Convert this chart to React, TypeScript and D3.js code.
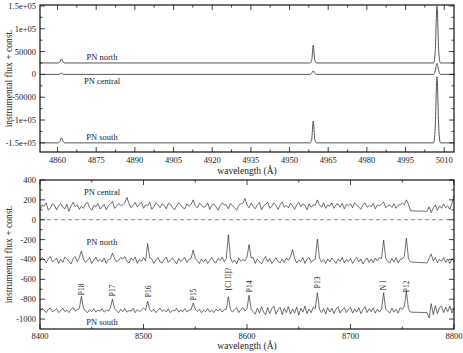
import React, { useEffect, useRef } from 'react';
import * as d3 from 'd3';

type Pt = [number, number];

const W = 463;
const H = 353;

// upper panel: H-beta and [O III] region, [wavelength, flux]
const topNorth: Pt[] = [
  [4853, 25000], [4860.2, 25000], [4860.9, 27000], [4861.5, 34000], [4862.1, 27000], [4862.8, 25000],
  [4957.9, 25000], [4958.6, 31000], [4959.2, 64000], [4959.8, 31000], [4960.5, 25000],
  [5005.9, 25000], [5006.5, 48000], [5007.2, 150000], [5007.9, 48000], [5008.5, 25000], [5014, 25000],
];
const topCentral: Pt[] = [
  [4853, 0], [4860.2, 0], [4860.9, 800], [4861.5, 2800], [4862.1, 800], [4862.8, 0],
  [4957.9, 0], [4958.6, 2500], [4959.2, 8000], [4959.8, 2500], [4960.5, 0],
  [5005.9, 0], [5006.5, 7500], [5007.2, 24000], [5007.9, 7500], [5008.5, 0], [5014, 0],
];
const topSouth: Pt[] = [
  [4853, -150000], [4860.2, -150000], [4860.9, -147000], [4861.5, -139000], [4862.1, -147000], [4862.8, -150000],
  [4957.9, -150000], [4958.6, -142000], [4959.2, -102000], [4959.8, -142000], [4960.5, -150000],
  [5005.9, -150000], [5006.5, -118000], [5007.2, -5000], [5007.9, -118000], [5008.5, -150000], [5014, -150000],
];
const topXTicks = [4860, 4875, 4890, 4905, 4920, 4935, 4950, 4965, 4980, 4995, 5010];
const topYTicks = [150000, 100000, 50000, 0, -50000, -100000, -150000];
const topYTickLabels = ['1.5e+05', '1e+05', '50000', '0', '-50000', '-1e+05', '-1.5e+05'];

// lower panel: 2 A sampling, detector gap between 8758 and 8774
const redWave = d3.range(8400, 8760, 2).concat(d3.range(8774, 8801, 2));
const redCentral = [
  105, 150, 135, 170, 95, 120, 160, 145, 100, 140,
  165, 125, 110, 155, 85, 140, 175, 130, 150, 105,
  135, 115, 160, 175, 120, 95, 145, 130, 165, 110,
  125, 155, 100, 140, 160, 185, 115, 135, 165, 145,
  150, 170, 225, 160, 120, 145, 175, 130, 155, 180,
  115, 150, 140, 175, 105, 130, 170, 150, 120, 160,
  145, 110, 165, 155, 125, 100, 140, 170, 150, 120,
  110, 160, 135, 155, 200, 140, 120, 165, 150, 125,
  135, 170, 105, 145, 160, 130, 95, 140, 170, 150,
  150, 110, 165, 140, 120, 95, 145, 160, 165, 215,
  150, 120, 165, 135, 110, 150, 175, 100, 140, 155,
  175, 115, 135, 170, 145, 105, 150, 180, 125, 145,
  120, 165, 140, 105, 150, 175, 130, 160, 145, 100,
  160, 125, 150, 145, 200, 150, 125, 170, 115, 150,
  135, 170, 115, 150, 160, 125, 165, 110, 155, 140,
  160, 120, 170, 145, 130, 105, 150, 170, 125, 145,
  130, 165, 110, 150, 140, 160, 180, 120, 140, 150,
  125, 160, 115, 145, 150, 170, 150, 200, 155, 90,
  85, 130, 70, 120, 150, 95, 140, 115, 160, 120, 140, 105, 165, 240,
];
const redNorth = [
  -415, -380, -400, -435, -390, -370, -425, -410, -385, -440,
  -400, -430, -375, -395, -420, -445, -390, -370, -420, -380,
  -315, -395, -430, -410, -380, -440, -405, -375, -420, -400,
  -425, -385, -440, -400, -395, -335, -390, -425, -410, -380,
  -395, -370, -420, -435, -385, -410, -375, -440, -400, -420,
  -380, -415, -240, -385, -395, -440, -405, -380, -425, -435,
  -400, -375, -430, -405, -385, -415, -445, -390, -420, -400,
  -380, -430, -395, -390, -305, -390, -415, -440, -395, -425,
  -395, -440, -410, -380, -420, -435, -390, -410, -375, -425,
  -390, -150, -385, -430, -405, -445, -385, -420, -400, -415,
  -375, -250, -385, -380, -440, -395, -420, -445, -400, -370,
  -425, -390, -440, -410, -380, -420, -435, -395, -430, -385,
  -410, -375, -300, -390, -435, -405, -420, -380, -440, -395,
  -380, -430, -405, -395, -195, -385, -425, -400, -440, -395,
  -425, -385, -410, -440, -395, -420, -380, -435, -400, -420,
  -390, -440, -405, -380, -425, -395, -445, -410, -385, -430,
  -395, -430, -385, -415, -380, -390, -205, -385, -420, -435,
  -390, -425, -380, -435, -400, -395, -370, -185, -390, -425,
  -435, -390, -345, -415, -380, -435, -400, -420, -380, -430, -395, -440, -390, -420,
];
const redSouth = [
  -920, -895, -910, -935, -900, -890, -925, -915, -895, -935,
  -915, -890, -925, -910, -935, -900, -885, -920, -905, -895,
  -770, -890, -920, -935, -905, -925, -895, -930, -910, -920,
  -895, -930, -910, -920, -890, -800, -895, -920, -935, -900,
  -925, -895, -930, -915, -920, -890, -935, -905, -925, -910,
  -890, -910, -820, -905, -925, -900, -935, -910, -890, -925,
  -905, -930, -895, -935, -910, -920, -890, -930, -910, -925,
  -895, -930, -910, -905, -838, -900, -925, -900, -935, -910,
  -925, -895, -930, -910, -935, -900, -920, -895, -930, -905,
  -900, -775, -900, -930, -905, -885, -935, -905, -885, -920,
  -895, -760, -900, -925, -950, -890, -940, -875, -930, -955,
  -885, -945, -895, -870, -950, -905, -880, -955, -890, -935,
  -875, -950, -900, -940, -880, -960, -890, -930, -870, -945,
  -900, -935, -880, -895, -735, -900, -935, -895, -950, -885,
  -930, -890, -945, -900, -875, -940, -905, -885, -935, -900,
  -880, -940, -900, -930, -885, -945, -905, -875, -935, -895,
  -925, -885, -940, -900, -930, -900, -735, -900, -920, -940,
  -890, -930, -900, -940, -885, -905, -870, -720, -895, -930,
  -935, -990, -845, -955, -865, -945, -885, -870, -935, -880, -925, -870, -940, -895,
];
const lineIds = ['P18', 'P17', 'P16', 'P15', '[Cl II]?', 'P14', 'P13', 'N I', 'P12'];
const lineWave = [8440, 8470, 8505, 8548, 8582, 8602, 8668, 8732, 8754];
const lineLabelY = [-760, -770, -780, -810, -710, -730, -690, -710, -730];
const bottomXTicks = [8400, 8500, 8600, 8700, 8800];
const bottomYTicks = [400, 200, 0, -200, -400, -600, -800, -1000];

const FONT = 'Liberation Serif, Times New Roman, DejaVu Serif, serif';

function drawFrame(g, x, y, xMajor, xMinor, yMajor, yMinor) {
  const [x0, x1] = x.range();
  const [yb, yt] = y.range();
  const tk = (ax, ay, bx, by) =>
    g.append('line').attr('x1', ax).attr('y1', ay).attr('x2', bx).attr('y2', by)
      .attr('stroke', '#111').attr('stroke-width', 0.8);

  xMajor.forEach(v => { const p = x(v); tk(p, yb, p, yb - 5); tk(p, yt, p, yt + 5); });
  xMinor.forEach(v => { const p = x(v); tk(p, yb, p, yb - 2.5); tk(p, yt, p, yt + 2.5); });
  yMajor.forEach(v => { const p = y(v); tk(x0, p, x0 + 5, p); tk(x1, p, x1 - 5, p); });
  yMinor.forEach(v => { const p = y(v); tk(x0, p, x0 + 2.5, p); tk(x1, p, x1 - 2.5, p); });

  g.append('rect').attr('x', x0).attr('y', yt).attr('width', x1 - x0).attr('height', yb - yt)
    .attr('fill', 'none').attr('stroke', '#111').attr('stroke-width', 1.2);
}

function label(g, x, y, txt, size, anchor = 'middle', transform = '') {
  const t = g.append('text').attr('text-anchor', anchor)
    .attr('font-family', FONT).attr('font-size', size).attr('fill', '#222').text(txt);
  if (transform) t.attr('transform', transform);
  else t.attr('x', x).attr('y', y);
  return t;
}

const App = () => {
  const ref = useRef(null);

  useEffect(() => {
    const svg = d3.select(ref.current);
    svg.selectAll('*').remove();
    svg.append('rect').attr('width', W).attr('height', H).attr('fill', '#fff');

    // ---------- upper panel ----------
    const xt = d3.scaleLinear().domain([4853.2, 5013.8]).range([40, 454]);
    const yt = d3.scaleLinear().domain([-170000, 152000]).range([152, 5]);
    const gt = svg.append('g');

    const lineTop = d3.line<Pt>().x(d => xt(d[0])).y(d => yt(d[1])).curve(d3.curveMonotoneX);
    [topNorth, topCentral, topSouth].forEach(s => {
      gt.append('path').attr('d', lineTop(s)).attr('fill', 'none')
        .attr('stroke', '#444').attr('stroke-width', 0.9);
    });

    const topXMinor = d3.range(4852.5, 5014, 7.5).filter(v => !topXTicks.includes(v) && v > 4853.2);
    const topYMinor = d3.range(-175000, 152000, 25000).filter(v => !topYTicks.includes(v) && v > -170000);
    drawFrame(gt, xt, yt, topXTicks, topXMinor, topYTicks, topYMinor);

    topXTicks.forEach(d => label(gt, xt(d), 162.5, d, 8.5));
    topYTicks.forEach((d, i) => label(gt, 36, yt(d) + 3, topYTickLabels[i], 8.5, 'end'));

    label(gt, 102, 60, 'PN north', 8.5);
    label(gt, 102, 83.5, 'PN central', 8.5);
    label(gt, 102, 139.5, 'PN south', 8.5);

    label(gt, 247, 173.5, 'wavelength (Å)', 9.5);
    label(gt, 0, 0, 'instrumental flux + const.', 9.5, 'middle', 'translate(12,78.5) rotate(-90)');

    // ---------- lower panel ----------
    const xb = d3.scaleLinear().domain([8400, 8800]).range([40, 454]);
    const yb = d3.scaleLinear().domain([-1100, 400]).range([329, 180]);
    const gb = svg.append('g');

    gb.append('line').attr('x1', xb(8400)).attr('x2', xb(8800)).attr('y1', yb(0)).attr('y2', yb(0))
      .attr('stroke', '#888').attr('stroke-width', 1).attr('stroke-dasharray', '4,3');

    const lineBot = d3.line<number>().x((d, i) => xb(redWave[i])).y(d => yb(d));
    [redCentral, redNorth, redSouth].forEach(s => {
      gb.append('path').attr('d', lineBot(s)).attr('fill', 'none')
        .attr('stroke', '#222').attr('stroke-width', 0.65);
    });

    const botXMinor = [8450, 8550, 8650, 8750];
    const botYMinor = [300, 100, -100, -300, -500, -700, -900];
    drawFrame(gb, xb, yb, bottomXTicks, botXMinor, bottomYTicks, botYMinor);

    bottomXTicks.forEach(d => label(gb, xb(d), 338.5, d, 8.5));
    bottomYTicks.forEach(d => label(gb, 36, yb(d) + 3, d, 8.5, 'end'));

    lineIds.forEach((t, i) => {
      label(gb, 0, 0, t, 7.5, 'start',
        `translate(${xb(lineWave[i]) + 2.5},${yb(lineLabelY[i])}) rotate(-90)`);
    });

    label(gb, 102, 195, 'PN central', 8.5);
    label(gb, 102, 245, 'PN north', 8.5);
    label(gb, 102, 324.5, 'PN south', 8.5);

    label(gb, 247, 348.5, 'wavelength (Å)', 9.5);
    label(gb, 0, 0, 'instrumental flux + const.', 9.5, 'middle', 'translate(12,254.5) rotate(-90)');
  }, []);

  return (
    <svg ref={ref} width={W} height={H}
      style={{ position: 'absolute', left: 0, top: 0, display: 'block' }} />
  );
};

export default App;
